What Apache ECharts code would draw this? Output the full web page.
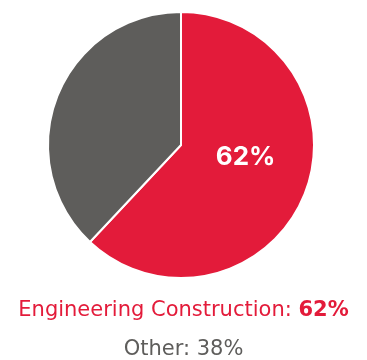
<!DOCTYPE html>
<html>
<head>
<meta charset="utf-8">
<script src="https://cdn.jsdelivr.net/npm/echarts@6/dist/echarts.min.js"></script>
<style>
  html, body { margin: 0; padding: 0; background: #fff; }
  #chart { width: 367px; height: 360px; }
</style>
</head>
<body>
<div id="chart"></div>
<script>
// Revenue share by segment
const categories = ['Engineering Construction', 'Other'];
const shares = [62, 38];
const colors = ['#E31B3A', '#5E5D5B'];

const LABEL_FONT = 'Inter, "Liberation Sans", Arial, sans-serif';
const CAPTION_FONT = '"DejaVu Sans", "Liberation Sans", Arial, sans-serif';

const pieData = categories.map((name, i) => ({
  name,
  value: shares[i],
  itemStyle: { color: colors[i] },
  label: { show: i === 0 }
}));

// One centred caption line per segment
const captions = categories.map((name, i) => ({
  left: 'center',
  top: i === 0 ? 295 : 334,
  text: '{n|' + name + ': }{v|' + shares[i] + '%}',
  textStyle: {
    rich: {
      n: { fontFamily: CAPTION_FONT, fontSize: 21, color: colors[i], fontWeight: 'normal' },
      v: { fontFamily: CAPTION_FONT, fontSize: 21, color: colors[i], fontWeight: i === 0 ? 'bold' : 'normal' }
    }
  }
}));

const chart = echarts.init(document.getElementById('chart'), null, { renderer: 'canvas' });
chart.setOption({
  animation: false,
  title: captions,
  series: [{
    type: 'pie',
    center: [181, 145],
    radius: [0, 133],
    startAngle: 90,
    clockwise: true,
    data: pieData,
    itemStyle: { borderColor: '#fff', borderWidth: 2 },
    label: {
      position: 'inside',
      formatter: p => p.value + '%',
      color: '#fff',
      fontFamily: LABEL_FONT,
      fontWeight: 'bold',
      fontSize: 26
    },
    labelLine: { show: false },
    labelLayout: { dy: -13 },
    emphasis: { disabled: true }
  }]
});
</script>
</body>
</html>
